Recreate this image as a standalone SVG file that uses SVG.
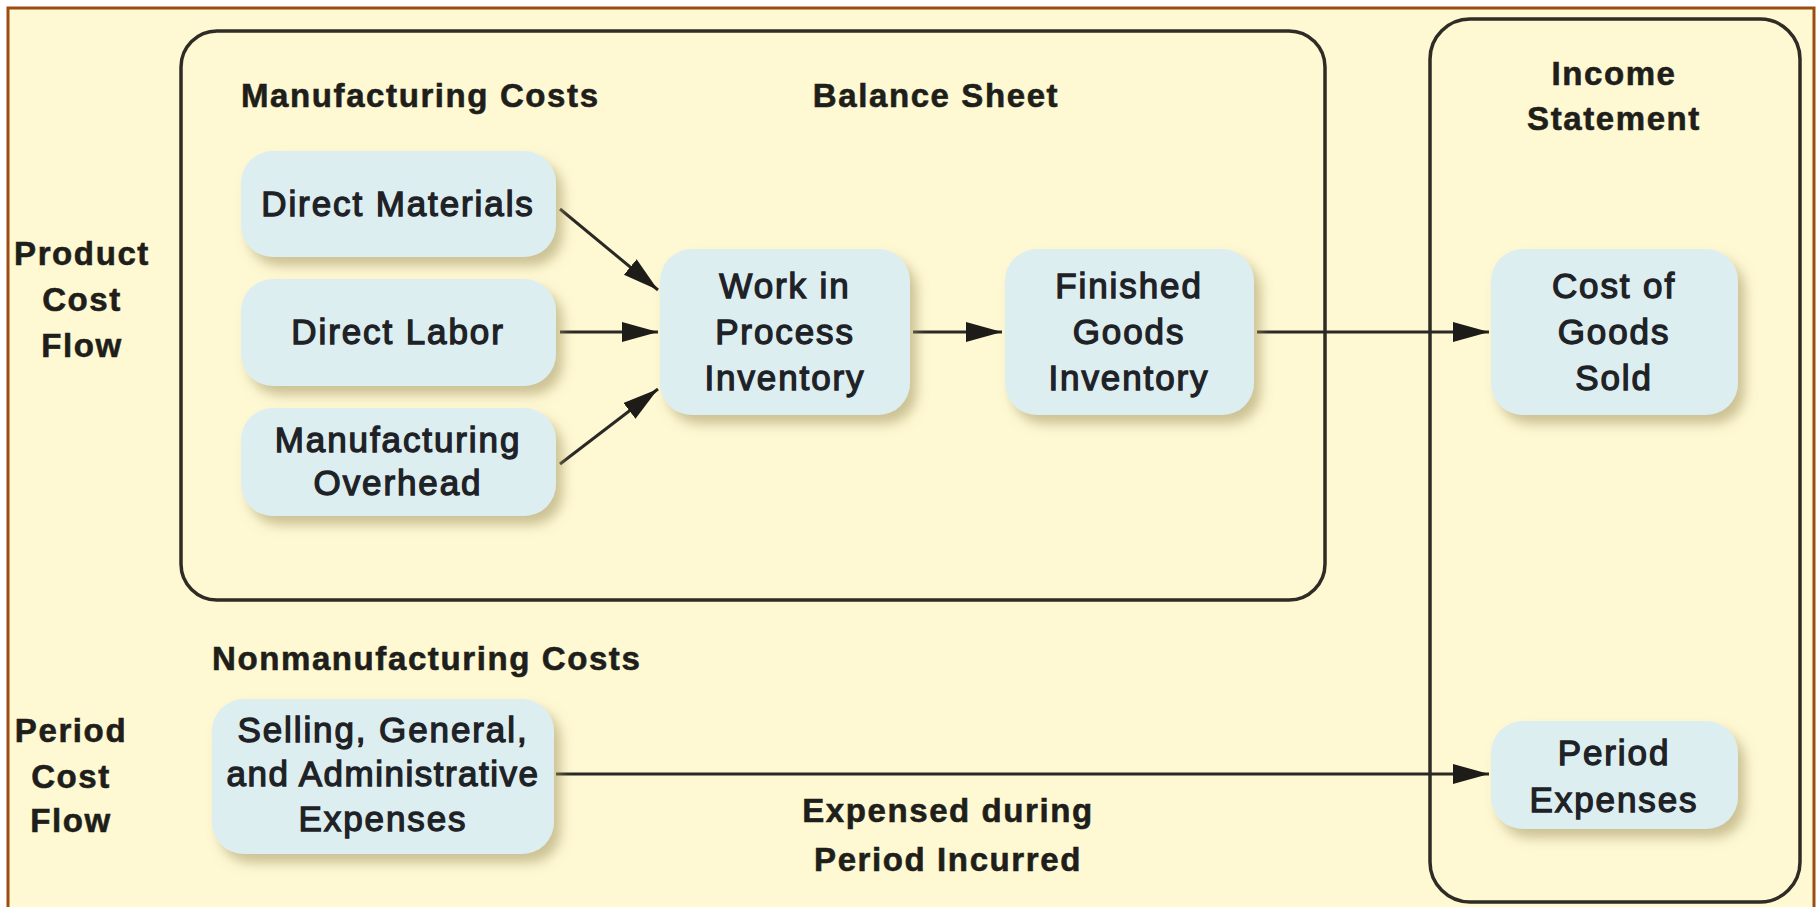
<svg xmlns="http://www.w3.org/2000/svg" width="1817" height="907" viewBox="0 0 1817 907">
<defs>
<style>
.hd{font-family:"Liberation Sans",Arial,sans-serif;font-weight:bold;font-size:33px;fill:#1e1e1a;stroke:#1e1e1a;stroke-width:0.6;letter-spacing:1.6px}
.nt{font-family:"Liberation Sans",Arial,sans-serif;font-weight:normal;font-size:35px;fill:#1e2226;stroke:#1e2226;stroke-width:1.3;letter-spacing:1.9px;text-anchor:middle}
.nb{fill:#DDEEF1;filter:url(#sh)}
.grp{fill:none;stroke:#2e2c24;stroke-width:3.5}
.cn{stroke:#2a2824;stroke-width:3;fill:none;marker-end:url(#ah)}
</style>
<filter id="sh" x="-20%" y="-20%" width="150%" height="160%">
<feDropShadow dx="7" dy="9" stdDeviation="6" flood-color="#a39462" flood-opacity="0.55"/>
</filter>
<marker id="ah" markerUnits="userSpaceOnUse" markerWidth="38" markerHeight="22" refX="36" refY="10" orient="auto">
<path d="M0,0 L36,10 L0,20 Z" fill="#1e1c18"/>
</marker>
</defs>
<rect x="0" y="0" width="1817" height="907" fill="#ffffff"/>
<rect x="8" y="8" width="1806" height="920" fill="#FEF8D3" stroke="#9C4C12" stroke-width="3"/>

<g id="balance-sheet">
<rect class="grp" x="181" y="31" width="1144" height="569" rx="36"/>
<text class="hd" x="241" y="107">Manufacturing Costs</text>
<text class="hd" x="936" y="107" text-anchor="middle">Balance Sheet</text>
</g>
<g id="income-statement">
<rect class="grp" x="1430" y="19" width="370" height="883" rx="40"/>
<text class="hd" x="1614" y="85" text-anchor="middle">Income</text>
<text class="hd" x="1614" y="130" text-anchor="middle">Statement</text>
</g>
<g id="product-cost-flow-label">
<text class="hd" x="82" y="265" text-anchor="middle">Product</text>
<text class="hd" x="82" y="311" text-anchor="middle">Cost</text>
<text class="hd" x="82" y="357" text-anchor="middle">Flow</text>
</g>
<g id="period-cost-flow-label">
<text class="hd" x="71" y="742" text-anchor="middle">Period</text>
<text class="hd" x="71" y="788" text-anchor="middle">Cost</text>
<text class="hd" x="71" y="832" text-anchor="middle">Flow</text>
</g>
<g id="nonmanufacturing-label">
<text class="hd" x="212" y="670">Nonmanufacturing Costs</text>
</g>
<g id="expensed-label">
<text class="hd" x="948" y="822" text-anchor="middle">Expensed during</text>
<text class="hd" x="948" y="871" text-anchor="middle">Period Incurred</text>
</g>

<g id="connectors">
<line class="cn" x1="560" y1="209" x2="658" y2="290"/>
<line class="cn" x1="560" y1="332" x2="658" y2="332"/>
<line class="cn" x1="560" y1="464" x2="658" y2="389"/>
<line class="cn" x1="913" y1="332" x2="1002" y2="332"/>
<line class="cn" x1="1257" y1="332" x2="1489" y2="332"/>
<line class="cn" x1="556" y1="774" x2="1489" y2="774"/>
</g>

<g id="direct-materials">
<rect class="nb" x="241" y="151" width="315" height="106" rx="32"/>
<text class="nt" x="398" y="216">Direct Materials</text>
</g>
<g id="direct-labor">
<rect class="nb" x="241" y="279" width="315" height="107" rx="32"/>
<text class="nt" x="398" y="344">Direct Labor</text>
</g>
<g id="manufacturing-overhead">
<rect class="nb" x="241" y="408" width="315" height="108" rx="32"/>
<text class="nt" x="398" y="452">Manufacturing</text>
<text class="nt" x="398" y="495">Overhead</text>
</g>
<g id="work-in-process">
<rect class="nb" x="660" y="249" width="250" height="166" rx="32"/>
<text class="nt" x="785" y="298">Work in</text>
<text class="nt" x="785" y="344">Process</text>
<text class="nt" x="785" y="390">Inventory</text>
</g>
<g id="finished-goods">
<rect class="nb" x="1005" y="249" width="249" height="166" rx="32"/>
<text class="nt" x="1129" y="298">Finished</text>
<text class="nt" x="1129" y="344">Goods</text>
<text class="nt" x="1129" y="390">Inventory</text>
</g>
<g id="cost-of-goods-sold">
<rect class="nb" x="1491" y="249" width="247" height="166" rx="32"/>
<text class="nt" x="1614" y="298">Cost of</text>
<text class="nt" x="1614" y="344">Goods</text>
<text class="nt" x="1614" y="390">Sold</text>
</g>
<g id="sga-expenses">
<rect class="nb" x="212" y="699" width="342" height="155" rx="32"/>
<text class="nt" x="383" y="742">Selling, General,</text>
<text class="nt" x="383" y="786" style="letter-spacing:1.5px">and Administrative</text>
<text class="nt" x="383" y="831">Expenses</text>
</g>
<g id="period-expenses">
<rect class="nb" x="1491" y="721" width="247" height="108" rx="32"/>
<text class="nt" x="1614" y="765">Period</text>
<text class="nt" x="1614" y="812">Expenses</text>
</g>
</svg>
